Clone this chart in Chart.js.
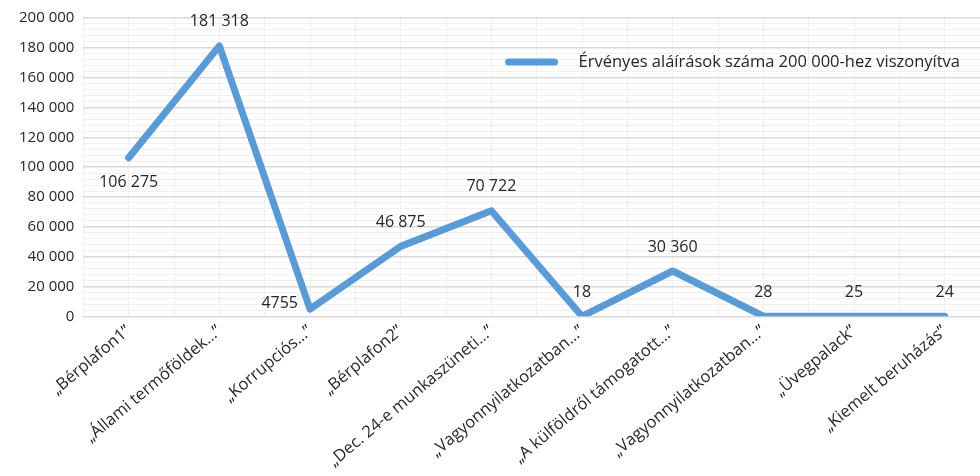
<!DOCTYPE html>
<html>
<head>
<meta charset="utf-8">
<script src="https://cdn.jsdelivr.net/npm/chart.js@4"></script>
<style>
  html, body { margin: 0; padding: 0; background: #fff; overflow: hidden; }
  #wrap { width: 990px; height: 476px; }
</style>
</head>
<body>
<div id="wrap"><canvas id="line-chart"></canvas></div>
<script>
// data
const labels = [
  "„Bérplafon1”",
  "„Állami termőföldek…”",
  "„Korrupciós…”",
  "„Bérplafon2”",
  "„Dec. 24-e munkaszüneti…”",
  "„Vagyonnyilatkozatban…”",
  "„A külföldről támogatott…”",
  "„Vagyonnyilatkozatban…”",
  "„Üvegpalack”",
  "„Kiemelt beruházás”"
];
const signatures = [106275, 181318, 4755, 46875, 70722, 18, 30360, 28, 25, 24];
const seriesName = "Érvényes aláírások száma 200 000-hez viszonyítva";
// where each value label sits relative to its point
const labelSide = ["below", "above", "left", "above", "above", "above", "above", "above", "above", "above"];

const FONT = "'Open Sans', 'Noto Sans', sans-serif";
const TEXT = "#262626";
const BLUE = "#5B9BD5";

function fmt(v) {
  if (v < 10000) return String(v);
  return String(v).replace(/\B(?=(\d{3})+(?!\d))/g, " ");
}

const valueLabels = {
  id: "valueLabels",
  afterDatasetsDraw(chart) {
    const ctx = chart.ctx;
    const meta = chart.getDatasetMeta(0);
    ctx.save();
    ctx.font = "16px " + FONT;
    ctx.fillStyle = TEXT;
    ctx.textBaseline = "middle";
    meta.data.forEach((pt, i) => {
      const txt = fmt(signatures[i]);
      const side = labelSide[i];
      if (side === "below") {
        ctx.textAlign = "center";
        ctx.fillText(txt, pt.x, pt.y + 25);
      } else if (side === "left") {
        ctx.textAlign = "right";
        ctx.fillText(txt, pt.x - 12, pt.y - 6);
      } else {
        ctx.textAlign = "center";
        ctx.fillText(txt, pt.x, pt.y - 24);
      }
    });
    ctx.restore();
  }
};

const insideLegend = {
  id: "insideLegend",
  afterDraw(chart) {
    const ctx = chart.ctx;
    const area = chart.chartArea;
    ctx.save();
    ctx.font = "16.5px " + FONT;
    const w = ctx.measureText(seriesName).width;
    const textX = area.right - 30 - w;
    const y = area.top + 44;
    ctx.strokeStyle = BLUE;
    ctx.lineWidth = 7;
    ctx.lineCap = "round";
    ctx.beginPath();
    ctx.moveTo(textX - 70, y);
    ctx.lineTo(textX - 24, y);
    ctx.stroke();
    ctx.fillStyle = TEXT;
    ctx.textBaseline = "middle";
    ctx.textAlign = "left";
    ctx.fillText(seriesName, textX, y);
    ctx.restore();
  }
};

const ctx = document.getElementById("line-chart").getContext("2d");

new Chart(ctx, {
  type: "line",
  data: {
    labels: labels,
    datasets: [
      {
        label: seriesName,
        data: signatures,
        borderColor: BLUE,
        backgroundColor: BLUE,
        borderWidth: 7,
        borderJoinStyle: "round",
        borderCapStyle: "round",
        pointRadius: 0,
        tension: 0,
      },
    ],
  },
  options: {
    responsive: true,
    maintainAspectRatio: false,
    animation: false,
    layout: { padding: { top: 4, left: 10, right: 0, bottom: 0 } },
    scales: {
      x: {
        offset: true,
        grid: { offset: true, color: "#EFEFEF", lineWidth: 1, drawTicks: false },
        border: { display: true, color: "#D9D9D9" },
        ticks: {
          color: TEXT,
          font: { family: FONT, size: 16.5 },
          maxRotation: 40,
          minRotation: 40,
          autoSkip: false,
          padding: 5,
        },
      },
      xc: {
        type: "category",
        position: "bottom",
        offset: true,
        grid: { offset: false, color: "#EFEFEF", lineWidth: 1, drawTicks: false },
        border: { display: false },
        ticks: { display: false },
      },
      y: {
        min: 0,
        max: 200000,
        ticks: {
          stepSize: 4000,
          autoSkip: false,
          color: TEXT,
          font: { family: FONT, size: 15 },
          padding: 9,
          callback: (v) => (v % 20000 === 0 ? fmt(v) : ""),
        },
        grid: {
          drawTicks: false,
          color: (c) => (c.tick && c.tick.value % 20000 === 0 ? "#D9D9D9" : "#F0F0F0"),
          lineWidth: (c) => (c.tick && c.tick.value % 20000 === 0 ? 1.5 : 1),
        },
        border: { display: false },
      },
    },
    plugins: {
      legend: { display: false },
      tooltip: { enabled: false },
    },
  },
  plugins: [valueLabels, insideLegend],
});
</script>
</body>
</html>
